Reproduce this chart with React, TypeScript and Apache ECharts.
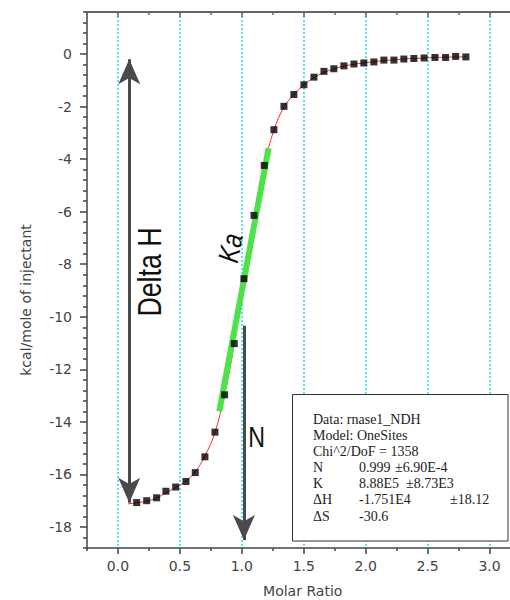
import React, { useEffect, useRef } from 'react';
import * as echarts from 'echarts';

// Measured injections (molar ratio, kcal/mole of injectant)
const molarRatio = [0.151, 0.232, 0.312, 0.387, 0.466, 0.549, 0.624, 0.702, 0.783, 0.861, 0.939, 1.017, 1.098, 1.181, 1.259, 1.340, 1.420, 1.501, 1.582, 1.663, 1.743, 1.824, 1.905, 1.985, 2.066, 2.147, 2.228, 2.308, 2.389, 2.472, 2.559, 2.645, 2.726, 2.809];
const heat = [-17.07, -17.00, -16.89, -16.64, -16.48, -16.27, -15.93, -15.33, -14.39, -12.97, -11.02, -8.55, -6.14, -4.24, -2.88, -1.99, -1.54, -1.17, -0.88, -0.66, -0.56, -0.45, -0.38, -0.34, -0.30, -0.23, -0.23, -0.19, -0.17, -0.15, -0.13, -0.13, -0.09, -0.11];

// Fitted curve (red)
const fitRatio = [0.081, 0.151, 0.232, 0.312, 0.387, 0.466, 0.549, 0.624, 0.702, 0.783, 0.861, 0.939, 1.017, 1.098, 1.181, 1.259, 1.340, 1.420, 1.501, 1.582, 1.663, 1.743, 1.824, 1.905, 1.985, 2.066, 2.147, 2.228, 2.308, 2.389, 2.472, 2.559, 2.645, 2.726, 2.809];
const fitHeat = [-17.12, -17.08, -17.02, -16.90, -16.70, -16.50, -16.25, -15.90, -15.30, -14.40, -12.95, -11.02, -8.55, -6.14, -4.24, -2.90, -2.02, -1.54, -1.17, -0.90, -0.70, -0.57, -0.46, -0.39, -0.34, -0.29, -0.25, -0.22, -0.19, -0.17, -0.15, -0.13, -0.12, -0.11, -0.11];

// Slope (Ka) segment, green
const slopeRatio = [0.818, 1.216];
const slopeHeat = [-13.6, -3.58];

// Annotation arrows (data coordinates of the line ends)
const deltaHArrowX = 0.091;
const deltaHArrowTop = -0.2;
const deltaHArrowBottom = -17.08;
const nArrowX = 1.017;
const nArrowTop = -10.34;
const nArrowBottom = -18.5;

// Axes
const xMin = -0.25;
const xMax = 3.165;
const yMin = -18.8;
const yMax = 1.6;
const xTicks = [0, 0.5, 1, 1.5, 2, 2.5, 3];
const xMinorTicks = [-0.25, 0.25, 0.75, 1.25, 1.75, 2.25, 2.75];
const yTicks = [-18, -16, -14, -12, -10, -8, -6, -4, -2, 0];
const yMinorTicks: number[] = [];
for (let i = -47; i <= 4; i++) {
  if (i % 5 !== 0) yMinorTicks.push(Math.round(i * 4) / 10);
}

// Fit report
const reportHead = ['Data: rnase1_NDH', 'Model: OneSites', 'Chi^2/DoF = 1358'];
const reportParams = ['N', 'K', 'ΔH', 'ΔS'];
const reportValues = ['0.999', '8.88E5', '-1.751E4', '-30.6'];
const reportErrors = ['±6.90E-4', '±8.73E3', '±18.12', ''];

const AXIS_FONT = '"DejaVu Sans", sans-serif';
const SERIF = '"Liberation Serif", "Times New Roman", serif';
const ANNOT_FONT = '"Liberation Sans", Arial, sans-serif';

export default function App() {
  const ref = useRef<HTMLDivElement>(null);

  useEffect(() => {
    if (!ref.current) return;
    const chart = echarts.init(ref.current, undefined, { renderer: 'svg' });

    const pts = molarRatio.map((x, i) => [x, heat[i]]);
    const fit = fitRatio.map((x, i) => [x, fitHeat[i]]);
    const slope = slopeRatio.map((x, i) => [x, slopeHeat[i]]);

    const arrowEnd = { symbol: 'arrow', symbolSize: [16.5, 25] };

    const reportEls: any[] = [];
    const lineY = [419, 435, 451.5, 467.5, 483.5, 499.5, 516];
    const errX = [395, 406, 450, 450];
    const txt = (t: string, x: number, y: number) => ({
      type: 'text', x, y, z: 101,
      style: { text: t, fontFamily: SERIF, fontSize: 14, fill: '#222', align: 'left', verticalAlign: 'middle' },
    });
    reportHead.forEach((t, i) => reportEls.push(txt(t, 313, lineY[i])));
    reportParams.forEach((p, i) => {
      const y = lineY[i + 3];
      reportEls.push(txt(p, 313, y));
      reportEls.push(txt(reportValues[i], 359, y));
      if (reportErrors[i]) reportEls.push(txt(reportErrors[i], errX[i], y));
    });

    const option: any = {
      animation: false,
      backgroundColor: '#ffffff',
      grid: { left: 87, right: 0, top: 12, bottom: 52, containLabel: false },
      xAxis: [
        {
          type: 'value', position: 'bottom', min: xMin, max: xMax,
          axisLine: { show: true, onZero: false, lineStyle: { color: '#444', width: 1.5 } },
          axisTick: { show: true, inside: false, length: 6, customValues: xTicks, lineStyle: { color: '#444', width: 1.5 } },
          axisLabel: {
            show: true, customValues: xTicks, margin: 11, color: '#444',
            fontFamily: AXIS_FONT, fontSize: 14, formatter: (v: number) => v.toFixed(1),
          },
          splitLine: { show: true, lineStyle: { color: '#22dcf0', type: [2, 2], width: 1.5 } },
        },
        {
          type: 'value', position: 'bottom', min: xMin, max: xMax,
          axisLine: { show: false, onZero: false },
          axisTick: { show: true, inside: false, length: 3, customValues: xMinorTicks, lineStyle: { color: '#444', width: 1.5 } },
          axisLabel: { show: false },
          splitLine: { show: false },
        },
        {
          type: 'value', position: 'top', min: xMin, max: xMax,
          axisLine: { show: true, onZero: false, lineStyle: { color: '#666', width: 2 } },
          axisTick: { show: true, inside: true, length: 5, customValues: xTicks, lineStyle: { color: '#666', width: 1.5 } },
          axisLabel: { show: false },
          splitLine: { show: false },
        },
        {
          type: 'value', position: 'top', min: xMin, max: xMax,
          axisLine: { show: false, onZero: false },
          axisTick: { show: true, inside: true, length: 3, customValues: xMinorTicks, lineStyle: { color: '#666', width: 1.5 } },
          axisLabel: { show: false },
          splitLine: { show: false },
        },
      ],
      yAxis: [
        {
          type: 'value', position: 'left', min: yMin, max: yMax,
          axisLine: { show: true, onZero: false, lineStyle: { color: '#444', width: 1.5 } },
          axisTick: { show: true, inside: false, length: 7, customValues: yTicks, lineStyle: { color: '#444', width: 1.5 } },
          axisLabel: { show: true, customValues: yTicks, margin: 15, color: '#444', fontFamily: AXIS_FONT, fontSize: 14 },
          splitLine: { show: false },
        },
        {
          type: 'value', position: 'left', min: yMin, max: yMax,
          axisLine: { show: false, onZero: false },
          axisTick: { show: true, inside: false, length: 4, customValues: yMinorTicks, lineStyle: { color: '#444', width: 1.5 } },
          axisLabel: { show: false },
          splitLine: { show: false },
        },
      ],
      series: [
        {
          type: 'line', xAxisIndex: 0, yAxisIndex: 0, data: fit, smooth: 0.4,
          showSymbol: false, silent: true, z: 2,
          lineStyle: { color: '#ff2a2a', width: 1 },
        },
        {
          type: 'line', xAxisIndex: 0, yAxisIndex: 0, data: slope,
          showSymbol: false, silent: true, z: 3,
          lineStyle: { color: '#4ee24a', width: 6, cap: 'butt' },
        },
        {
          type: 'scatter', xAxisIndex: 0, yAxisIndex: 0, data: pts,
          symbol: 'rect', symbolSize: 7, z: 4, silent: true,
          itemStyle: { color: '#000' },
          markLine: {
            silent: true, animation: false, z: 5,
            label: { show: false },
            lineStyle: { color: '#4a4a4a', width: 3, type: 'solid' },
            emphasis: { disabled: true },
            data: [
              [
                { coord: [deltaHArrowX, deltaHArrowTop], ...arrowEnd },
                { coord: [deltaHArrowX, deltaHArrowBottom], ...arrowEnd },
              ],
              [
                { coord: [nArrowX, nArrowTop], symbol: 'none' },
                { coord: [nArrowX, nArrowBottom], ...arrowEnd },
              ],
            ],
          },
        },
      ],
      graphic: [
        {
          type: 'text', x: 26, y: 300, rotation: Math.PI / 2, z: 50,
          style: { text: 'kcal/mole of injectant', fontFamily: AXIS_FONT, fontSize: 14, fill: '#444', align: 'center', verticalAlign: 'middle' },
        },
        {
          type: 'text', x: 302.7, y: 591, z: 50,
          style: { text: 'Molar Ratio', fontFamily: AXIS_FONT, fontSize: 14, fill: '#444', align: 'center', verticalAlign: 'middle' },
        },
        {
          type: 'text', x: 149.5, y: 272, rotation: Math.PI / 2, scaleX: 0.81, z: 50,
          style: { text: 'Delta H', fontFamily: ANNOT_FONT, fontSize: 33, fill: '#111', align: 'center', verticalAlign: 'middle' },
        },
        {
          type: 'text', x: 230.5, y: 248, rotation: (79 * Math.PI) / 180, scaleX: 0.81, z: 50,
          style: { text: 'Ka', fontFamily: ANNOT_FONT, fontStyle: 'italic', fontSize: 29, fill: '#111', align: 'center', verticalAlign: 'middle' },
        },
        {
          type: 'text', x: 256.7, y: 437, scaleX: 0.8, z: 50,
          style: { text: 'N', fontFamily: ANNOT_FONT, fontSize: 29, fill: '#111', align: 'center', verticalAlign: 'middle' },
        },
        {
          type: 'rect', z: 100,
          shape: { x: 292.5, y: 394.5, width: 215.5, height: 146.5 },
          style: { fill: '#fff', stroke: '#333', lineWidth: 1 },
        },
        ...reportEls,
      ],
    };

    chart.setOption(option);
    return () => chart.dispose();
  }, []);

  return <div ref={ref} style={{ position: 'absolute', left: 0, top: 0, width: 510, height: 600 }} />;
}
